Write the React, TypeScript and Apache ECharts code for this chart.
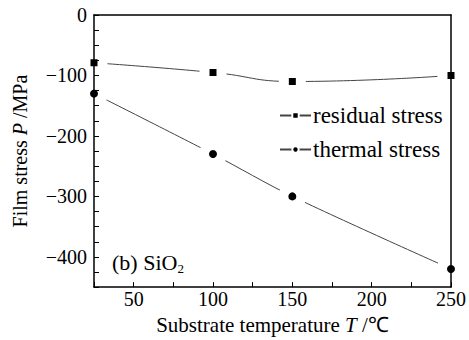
import React, { useEffect, useRef } from "react";
import * as echarts from "echarts";

const temperatures = [25, 100, 150, 250];
const residualStress = [-79, -95, -110, -100];
const thermalStress = [-130, -230, -300, -420];
const seriesNames = ["residual stress", "thermal stress"];
const xMin = 25, xMax = 250, yMin = -450, yMax = 0;

const FONT = "Liberation Serif";

export default function App() {
  const ref = useRef<HTMLDivElement>(null);
  useEffect(() => {
    if (!ref.current) return;
    const chart = echarts.init(ref.current, null, { renderer: "svg" });
    const mk = (vals: number[]) => temperatures.map((t, i) => [t, vals[i]]);
    const axisCommon = {
      axisLine: { show: true, onZero: false, lineStyle: { color: "#000", width: 1.5 } },
      splitLine: { show: false },
      z: 5,
    };
    const nameStyle = (size: number) => ({
      fontFamily: FONT,
      fontSize: size,
      color: "#000",
      rich: { i: { fontFamily: FONT, fontSize: size, fontStyle: "italic", color: "#000" } },
    });
    chart.setOption({
      animation: false,
      backgroundColor: "#fff",
      textStyle: { fontFamily: FONT, color: "#000" },
      grid: { left: 94, right: 17, top: 15, bottom: 51 },
      legend: {
        left: 279,
        top: 104,
        padding: 0,
        orient: "vertical",
        itemWidth: 31,
        itemHeight: 8,
        itemGap: 11,
        data: seriesNames,
        itemStyle: { borderColor: "#fff", borderWidth: 2 },
        textStyle: { fontFamily: FONT, fontSize: 23, color: "#000", padding: [0, 0, 0, -3] },
      },
      xAxis: [
        {
          ...axisCommon,
          type: "value",
          min: xMin,
          max: xMax,
          interval: 25,
          axisTick: { show: true, inside: true, length: 5, lineStyle: { color: "#000" } },
          axisLabel: {
            fontFamily: FONT,
            fontSize: 20,
            color: "#000",
            margin: 2,
            formatter: (v: number) => (v % 50 === 0 ? String(v) : ""),
          },
          name: "Substrate temperature {i|T} /℃",
          nameLocation: "middle",
          nameGap: 25,
          nameTextStyle: nameStyle(21),
        },
        {
          ...axisCommon,
          type: "value",
          position: "top",
          min: xMin,
          max: xMax,
          axisTick: { show: false },
          axisLabel: { show: false },
        },
      ],
      yAxis: [
        {
          ...axisCommon,
          type: "value",
          min: yMin,
          max: yMax,
          interval: 25,
          axisTick: { show: true, inside: true, length: 5, lineStyle: { color: "#000" } },
          axisLabel: {
            fontFamily: FONT,
            fontSize: 20,
            color: "#000",
            margin: 7,
            formatter: (v: number) => (v % 100 === 0 ? String(v).replace("-", "−") : ""),
          },
          name: "Film stress {i|P} /MPa",
          nameLocation: "middle",
          nameGap: 64,
          nameTextStyle: nameStyle(20),
        },
        {
          ...axisCommon,
          type: "value",
          position: "right",
          min: yMin,
          max: yMax,
          axisTick: { show: false },
          axisLabel: { show: false },
        },
      ],
      graphic: [
        {
          type: "text",
          left: 112,
          top: 251,
          style: {
            text: "(b) SiO{s|2}",
            font: `22px "${FONT}"`,
            fill: "#000",
            rich: { s: { fontSize: 13, fontFamily: FONT, padding: [12, 0, 0, 0], fill: "#000" } },
          },
          z: 10,
        },
      ],
      series: [
        {
          name: seriesNames[0],
          type: "line",
          data: mk(residualStress),
          smooth: 0.5,
          symbol: "rect",
          symbolSize: 17,
          clip: false,
          lineStyle: { color: "#444", width: 1 },
          itemStyle: { color: "#000", borderColor: "#fff", borderWidth: 10 },
          z: 2,
        },
        {
          name: seriesNames[1],
          type: "line",
          data: mk(thermalStress),
          smooth: 0.3,
          symbol: "circle",
          symbolSize: 18,
          clip: false,
          lineStyle: { color: "#444", width: 1 },
          itemStyle: { color: "#000", borderColor: "#fff", borderWidth: 10 },
          z: 2,
        },
      ],
    });
    return () => chart.dispose();
  }, []);
  return <div ref={ref} style={{ width: 469, height: 340, position: "absolute", left: 0, top: 0 }} />;
}
